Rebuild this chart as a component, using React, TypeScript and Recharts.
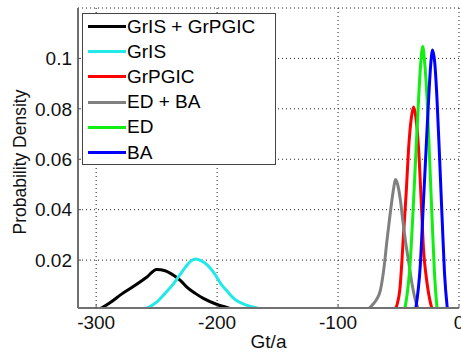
import React from 'react';
import { LineChart, Line, XAxis, YAxis, CartesianGrid } from 'recharts';

// (x in Gt/a, y = probability density)
const grisGrpgic = [
  { x: -302, y: 0 }, { x: -295, y: 0.0012 }, { x: -288, y: 0.0033 }, { x: -279, y: 0.0065 },
  { x: -269, y: 0.0096 }, { x: -258, y: 0.0133 }, { x: -250, y: 0.0163 }, { x: -243, y: 0.0158 },
  { x: -236, y: 0.014 }, { x: -230, y: 0.0118 }, { x: -225, y: 0.0093 }, { x: -218, y: 0.0068 },
  { x: -211, y: 0.0047 }, { x: -200, y: 0.0024 }, { x: -192, y: 0.0012 }, { x: -184, y: 0 },
];
const gris = [
  { x: -265, y: 0 }, { x: -257, y: 0.0012 }, { x: -250, y: 0.0033 }, { x: -243, y: 0.0068 },
  { x: -236, y: 0.0107 }, { x: -231, y: 0.014 }, { x: -226, y: 0.0173 }, { x: -222, y: 0.0195 },
  { x: -218, y: 0.0204 }, { x: -213, y: 0.0197 }, { x: -208, y: 0.018 }, { x: -202, y: 0.0145 },
  { x: -197, y: 0.0107 }, { x: -191, y: 0.0073 }, { x: -186, y: 0.0047 }, { x: -175, y: 0.002 },
  { x: -166, y: 0.0008 }, { x: -162, y: 0 },
];
const grpgic = [
  { x: -53, y: 0 }, { x: -49, y: 0.008 }, { x: -45.8, y: 0.0307 }, { x: -43.5, y: 0.048 },
  { x: -41.7, y: 0.064 }, { x: -39.5, y: 0.076 }, { x: -37.5, y: 0.0807 }, { x: -35.5, y: 0.076 },
  { x: -33.4, y: 0.064 }, { x: -31.3, y: 0.044 }, { x: -29.3, y: 0.024 }, { x: -27, y: 0.013 },
  { x: -25.1, y: 0.0067 }, { x: -22, y: 0 },
];
const edBa = [
  { x: -76, y: 0 }, { x: -72, y: 0.002 }, { x: -68, y: 0.0045 }, { x: -65, y: 0.008 },
  { x: -62, y: 0.017 }, { x: -59.5, y: 0.028 }, { x: -57, y: 0.038 }, { x: -55.4, y: 0.044 },
  { x: -53.5, y: 0.05 }, { x: -52.5, y: 0.052 }, { x: -51, y: 0.0505 }, { x: -48.5, y: 0.044 },
  { x: -46.5, y: 0.036 }, { x: -44.4, y: 0.028 }, { x: -41.5, y: 0.019 }, { x: -38.9, y: 0.0107 },
  { x: -36, y: 0.004 }, { x: -33, y: 0 },
];
const ed = [
  { x: -45, y: 0 }, { x: -40.5, y: 0.018 }, { x: -37.5, y: 0.044 }, { x: -35.3, y: 0.066 },
  { x: -33.4, y: 0.084 }, { x: -31.5, y: 0.099 }, { x: -30, y: 0.1047 }, { x: -28.5, y: 0.099 },
  { x: -26.4, y: 0.084 }, { x: -24.3, y: 0.06 }, { x: -22.3, y: 0.037 }, { x: -20.3, y: 0.015 },
  { x: -18, y: 0 },
];
const ba = [
  { x: -36, y: 0 }, { x: -32, y: 0.018 }, { x: -29.3, y: 0.044 }, { x: -27, y: 0.066 },
  { x: -25.1, y: 0.084 }, { x: -23.3, y: 0.098 }, { x: -21.8, y: 0.1033 }, { x: -20, y: 0.098 },
  { x: -18.2, y: 0.084 }, { x: -16, y: 0.06 }, { x: -14, y: 0.037 }, { x: -12, y: 0.015 },
  { x: -9.5, y: 0 },
];

const xTicks = [-300, -200, -100, 0];
const yTicks = [0.02, 0.04, 0.06, 0.08, 0.1];

const series = [
  { name: 'GrIS + GrPGIC', data: grisGrpgic, color: '#000000' },
  { name: 'GrIS', data: gris, color: '#22e8e8' },
  { name: 'GrPGIC', data: grpgic, color: '#ff0000' },
  { name: 'ED + BA', data: edBa, color: '#808080' },
  { name: 'ED', data: ed, color: '#11ee11' },
  { name: 'BA', data: ba, color: '#0000ff' },
];

const FONT = '"Liberation Sans", Arial, sans-serif';

// legend drawn as an overlay so the chart doesn't reserve space for it
const LegendBox = () => (
  <div style={{ position: 'absolute', left: 82, top: 13, width: 194, height: 152, border: '1px solid #444', background: '#fff', boxSizing: 'border-box' }}>
    {series.map(s => (
      <div key={s.name} style={{ display: 'flex', alignItems: 'center', height: 25.2, fontFamily: FONT, fontSize: 19, color: '#000' }}>
        <div style={{ width: 38, height: 3, background: s.color, marginLeft: 5, marginRight: 1 }} />
        <span style={{ lineHeight: '20px' }}>{s.name}</span>
      </div>
    ))}
  </div>
);

const YLabel = (props: any) => {
  const vb = props.viewBox || {};
  const cx = (vb.x || 0) + 20;
  const cy = (vb.y || 0) + (vb.height || 0) / 2 + 4;
  return (
    <text x={cx} y={cy} transform={`rotate(-90 ${cx} ${cy})`} textAnchor="middle" dominantBaseline="central"
      fill="#111" fontSize={17.5} fontFamily={FONT}>
      Probability Density
    </text>
  );
};

export default function App() {
  return (
    <div style={{ position: 'absolute', left: 0, top: 0, width: 461, height: 353, background: '#fff' }}>
      <LineChart width={461} height={353} margin={{ top: 8, right: 2, bottom: 0, left: 0 }}>
        <CartesianGrid stroke="#222" strokeDasharray="1 3" />
        <XAxis
          type="number"
          dataKey="x"
          domain={[-315, 0]}
          ticks={xTicks}
          interval={0}
          allowDataOverflow
          height={45}
          tickSize={-3}
          tickLine={{ stroke: '#555' }}
          axisLine={{ stroke: '#707070', strokeWidth: 2 }}
          tick={{ fill: '#111', fontSize: 19, fontFamily: FONT }}
          tickMargin={11}
          label={{ value: 'Gt/a', position: 'insideBottom', offset: 5, fill: '#111', fontSize: 19, fontFamily: FONT }}
        />
        <YAxis
          type="number"
          dataKey="y"
          domain={[0.001, 0.12]}
          ticks={yTicks}
          interval={0}
          allowDataOverflow
          width={78}
          tickSize={-3}
          tickLine={{ stroke: '#555' }}
          axisLine={{ stroke: '#707070', strokeWidth: 2 }}
          tick={{ fill: '#111', fontSize: 19, fontFamily: FONT }}
          tickFormatter={(v: number) => String(v)}
          tickMargin={9}
          label={{ content: YLabel, position: 'insideLeft' }}
        />
        {series.map(s => (
          <Line
            key={s.name}
            data={s.data}
            dataKey="y"
            name={s.name}
            type="monotone"
            stroke={s.color}
            strokeWidth={3}
            dot={false}
            isAnimationActive={false}
          />
        ))}
      </LineChart>
      <LegendBox />
    </div>
  );
}
